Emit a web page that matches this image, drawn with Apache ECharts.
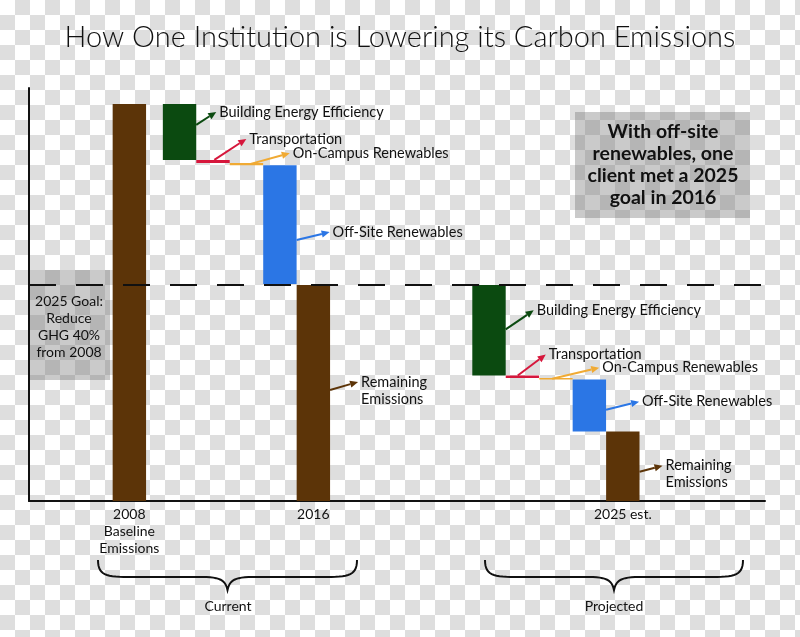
<!DOCTYPE html>
<html><head><meta charset="utf-8">
<script src="https://cdn.jsdelivr.net/npm/echarts@6/dist/echarts.min.js"></script>
<style>
html,body{margin:0;padding:0;width:800px;height:637px;overflow:hidden;
background-color:#ffffff;
background-image:conic-gradient(#dedede 25%, transparent 0 50%, #dedede 0 75%, transparent 0);
background-size:30px 30px;}
#chart{width:800px;height:637px;}
</style></head><body><div id="chart"></div>
<script>
// ---------------- data ----------------
const titleText = 'How One Institution is Lowering its Carbon Emissions';
const stepNames = ['2008 Baseline Emissions', 'Building Energy Efficiency', 'Transportation', 'On-Campus Renewables', 'Off-Site Renewables', '2016',
                   'Building Energy Efficiency', 'Transportation', 'On-Campus Renewables', 'Off-Site Renewables', '2025 est.'];
const stepKinds = ['total', 'reduction', 'reduction', 'reduction', 'reduction', 'total',
                   'reduction', 'reduction', 'reduction', 'reduction', 'total'];
const stepValues = [100, 14.1, 0.8, 0.55, 29.9, 54.4, 22.8, 0.6, 0.4, 13.1, 17.5];
const axisLabels = ['2008\nBaseline\nEmissions', '', '', '', '', '2016', '', '', '', '', '2025 est.'];
const annotationLabels = ['', 'Building Energy Efficiency', 'Transportation', 'On-Campus Renewables', 'Off-Site Renewables', 'Remaining\nEmissions',
                          'Building Energy Efficiency', 'Transportation', 'On-Campus Renewables', 'Off-Site Renewables', 'Remaining\nEmissions'];
const goalLevel = 54.5;
const goalNote = '2025 Goal:\nReduce\nGHG 40%\nfrom 2008';
const calloutText = 'With off-site\nrenewables, one\nclient met a 2025\ngoal in 2016';
const groupLabels = ['Current', 'Projected'];

// ---------------- layout / style ----------------
const slotCount = 89;
const slotIndex = [12, 18, 22, 26, 30, 34, 55, 59, 63, 67, 71];
const barW = 33.4;
const totalColor = '#5c3408';
const colorByName = {
  'Building Energy Efficiency': '#0b4a10',
  'Transportation': '#d6173c',
  'On-Campus Renewables': '#f0aa34',
  'Off-Site Renewables': '#2b76e5'
};
// arrow anchors: ox = offset from bar left, fy = fraction of bar height from top, dx/dy = arrow vector
const annoLayout = [
  null,
  {ox: 33.4, fy: 0.375, dx: 20, dy: -13},
  {ox: 18, fy: 0, dx: 32, dy: -21},
  {ox: 20, fy: 0.5, dx: 40, dy: -11},
  {ox: 33.4, fy: 0.63, dx: 33, dy: -8},
  {ox: 33.4, fy: 0.486, dx: 28, dy: -8},
  {ox: 33.4, fy: 0.49, dx: 28, dy: -19},
  {ox: 12, fy: 0, dx: 28, dy: -21},
  {ox: 13, fy: 0.5, dx: 47, dy: -11},
  {ox: 33.4, fy: 0.58, dx: 33, dy: -8},
  {ox: 33.4, fy: 0.58, dx: 23, dy: -6}
];
const FONT = 'Lato, "Open Sans", sans-serif';

function colorOf(k) {
  return stepKinds[k] === 'total' ? totalColor : colorByName[stepNames[k]];
}

// waterfall construction
const bases = [];
const baseData = new Array(slotCount).fill(null);
const barData = new Array(slotCount).fill(null);
let level = 0;
stepNames.forEach((name, k) => {
  const v = stepValues[k];
  let b;
  if (stepKinds[k] === 'total') { b = 0; level = v; }
  else { level -= v; b = level; }
  bases[k] = b;
  baseData[slotIndex[k]] = b;
  barData[slotIndex[k]] = {value: v, name: name, itemStyle: {color: colorOf(k)}};
});
const labelBySlot = {};
slotIndex.forEach((s, k) => { if (axisLabels[k]) labelBySlot[s] = axisLabels[k]; });
const categories = Array.from({length: slotCount}, (_, i) => String(i));

const chart = echarts.init(document.getElementById('chart'), null, {renderer: 'canvas'});
chart.setOption({
  backgroundColor: 'transparent',
  animation: false,
  grid: {left: 29, right: 35, top: 88, bottom: 136, containLabel: false},
  xAxis: {
    type: 'category', data: categories, boundaryGap: false,
    axisLine: {lineStyle: {color: '#111', width: 2}},
    axisTick: {show: false},
    splitLine: {show: false},
    axisLabel: {
      interval: 0, margin: 5, color: '#111', fontSize: 14, lineHeight: 17, fontFamily: FONT,
      formatter: (v, i) => labelBySlot[i] || ''
    }
  },
  yAxis: {
    type: 'value', min: 0, max: 104,
    axisLine: {show: true, lineStyle: {color: '#111', width: 2}},
    axisTick: {show: false}, axisLabel: {show: false}, splitLine: {show: false}
  },
  series: [
    {type: 'bar', stack: 'wf', data: baseData, barWidth: barW, silent: true,
     itemStyle: {color: 'transparent'}},
    {type: 'bar', stack: 'wf', data: barData, barWidth: barW,
     markLine: {
       silent: true, symbol: 'none', label: {show: false},
       lineStyle: {color: '#111', width: 2, type: [27, 20]},
       data: [{yAxis: goalLevel}]
     }}
  ]
});

// ---------------- annotations ----------------
const g = [];
g.push({type: 'text', style: {x: 400, y: 38, text: titleText, align: 'center', verticalAlign: 'middle',
  font: '300 29px ' + FONT, fill: '#111'}});

stepNames.forEach((name, k) => {
  const a = annoLayout[k];
  if (!a) return;
  const top = chart.convertToPixel({gridIndex: 0}, [slotIndex[k], bases[k] + stepValues[k]]);
  const bot = chart.convertToPixel({gridIndex: 0}, [slotIndex[k], bases[k]]);
  const left = top[0] - barW / 2;
  const sx = left + a.ox, sy = top[1] + a.fy * (bot[1] - top[1]);
  const ex = sx + a.dx, ey = sy + a.dy;
  const len = Math.hypot(a.dx, a.dy);
  const ux = a.dx / len, uy = a.dy / len;
  const bx = ex - ux * 8, by = ey - uy * 8;
  const px = -uy * 3.6, py = ux * 3.6;
  const col = colorOf(k);
  g.push({type: 'polyline', shape: {points: [[sx, sy], [bx, by]]}, style: {stroke: col, lineWidth: 2, fill: null}});
  g.push({type: 'polygon', shape: {points: [[ex, ey], [bx + px, by + py], [bx - px, by - py]]}, style: {fill: col}});
  g.push({type: 'text', style: {x: ex + 3, y: ey - 8.5, text: annotationLabels[k], align: 'left', verticalAlign: 'top',
    font: '14.5px ' + FONT, lineHeight: 17, fill: '#111'}});
});

// goal note box
g.push({type: 'rect', shape: {x: 28, y: 270, width: 82, height: 110}, style: {fill: 'rgba(115,115,115,0.38)'}});
g.push({type: 'text', style: {x: 69, y: 327, text: goalNote, align: 'center', verticalAlign: 'middle',
  font: '14px ' + FONT, lineHeight: 16.7, fill: '#111'}});
// callout box
g.push({type: 'rect', shape: {x: 575, y: 112, width: 175, height: 106}, style: {fill: 'rgba(115,115,115,0.38)'}});
g.push({type: 'text', style: {x: 663, y: 165, text: calloutText, align: 'center', verticalAlign: 'middle',
  font: 'bold 19.5px ' + FONT, lineHeight: 22, fill: '#111'}});

// braces (sampled cubic curves)
function cubic(p0, p1, p2, p3, n, out) {
  for (let i = 1; i <= n; i++) {
    const t = i / n, m = 1 - t;
    out.push([
      m*m*m*p0[0] + 3*m*m*t*p1[0] + 3*m*t*t*p2[0] + t*t*t*p3[0],
      m*m*m*p0[1] + 3*m*m*t*p1[1] + 3*m*t*t*p2[1] + t*t*t*p3[1]
    ]);
  }
}
function bracePoints(x0, x1, yTop, yMid, yTip) {
  const c = (x0 + x1) / 2;
  const pts = [[x0, yTop]];
  cubic([x0, yTop], [x0, yMid - 2], [x0 + 8, yMid], [x0 + 30, yMid], 14, pts);
  pts.push([c - 25, yMid]);
  cubic([c - 25, yMid], [c - 8, yMid], [c - 2, yMid + 3], [c, yTip], 12, pts);
  cubic([c, yTip], [c + 2, yMid + 3], [c + 8, yMid], [c + 25, yMid], 12, pts);
  pts.push([x1 - 30, yMid]);
  cubic([x1 - 30, yMid], [x1 - 8, yMid], [x1, yMid - 2], [x1, yTop], 14, pts);
  return pts;
}
g.push({type: 'polyline', shape: {points: bracePoints(98, 357, 560, 577, 590)}, style: {stroke: '#111', lineWidth: 2, fill: null}});
g.push({type: 'polyline', shape: {points: bracePoints(485, 743, 560, 577, 590)}, style: {stroke: '#111', lineWidth: 2, fill: null}});
g.push({type: 'text', style: {x: 228, y: 606, text: groupLabels[0], align: 'center', verticalAlign: 'middle', font: '14px ' + FONT, fill: '#111'}});
g.push({type: 'text', style: {x: 614, y: 606, text: groupLabels[1], align: 'center', verticalAlign: 'middle', font: '14px ' + FONT, fill: '#111'}});

chart.setOption({graphic: g});
</script></body></html>
